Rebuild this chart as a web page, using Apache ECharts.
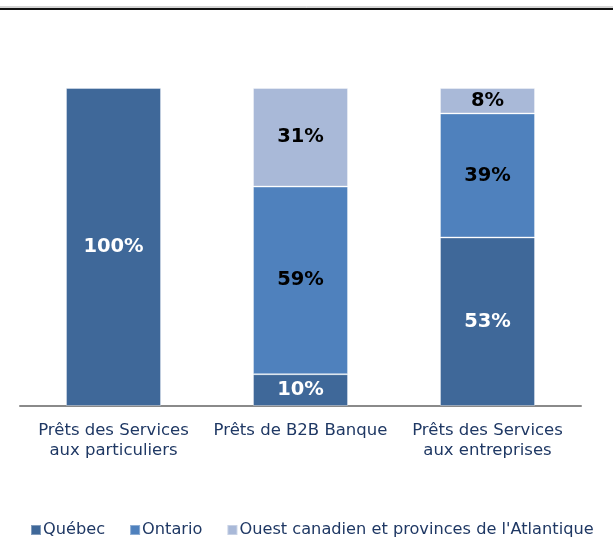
<!DOCTYPE html>
<html><head><meta charset="utf-8">
<script src="https://cdn.jsdelivr.net/npm/echarts@6/dist/echarts.min.js"></script>
<style>html,body{margin:0;padding:0;background:#fff}#c{width:613px;height:537px}</style>
</head><body><div id="c"></div>
<script>
const categories = ["Prêts des Services\naux particuliers", "Prêts de B2B Banque", "Prêts des Services\naux entreprises"];
const seriesNames = ["Québec", "Ontario", "Ouest canadien et provinces de l'Atlantique"];
const quebec = [100, 10, 53];
const ontario = [null, 59, 39];
const ouest = [null, 31, 8];
const colors = ["#3F6899", "#4F81BD", "#A9B9D8"];
const labelColors = ["#ffffff", "#000000", "#000000"];

const chart = echarts.init(document.getElementById('c'), null, {renderer: 'canvas'});
const font = "'DejaVu Sans', Verdana, sans-serif";
const values = [quebec, ontario, ouest];
chart.setOption({
  animation: false,
  textStyle: {fontFamily: font},
  grid: {left: 20, top: 88, width: 561, height: 318, containLabel: false},
  xAxis: {
    type: 'category', data: categories,
    axisLine: {lineStyle: {color: '#8a8a8a', width: 2}},
    axisTick: {show: false},
    axisLabel: {color: '#1F3864', fontSize: 16.5, fontFamily: font, margin: 15, lineHeight: 20, interval: 0}
  },
  yAxis: {type: 'value', min: 0, max: 100, show: false, splitLine: {show: false}},
  legend: {
    left: 25, top: 517, itemWidth: 10, itemHeight: 10, itemGap: 24,
    icon: 'rect',
    textStyle: {color: '#1F3864', fontSize: 16.2, fontFamily: font, padding: [0, 0, 0, -3]},
    data: seriesNames
  },
  series: seriesNames.map((n, i) => ({
    name: n, type: 'bar', stack: 'total', data: values[i],
    barWidth: 95,
    itemStyle: {color: colors[i], borderColor: 'rgba(255,255,255,0.35)', borderWidth: 1},
    label: {
      show: true, position: 'inside', color: labelColors[i], fontWeight: 'bold',
      fontSize: 19.5, fontFamily: font,
      formatter: p => (p.value ? p.value + '%' : '')
    }
  })),
  graphic: [
    {type: 'line', shape: {x1: 0, y1: 7, x2: 613, y2: 7}, style: {stroke: '#aaaaaa', lineWidth: 1}},
    {type: 'line', shape: {x1: 0, y1: 9, x2: 613, y2: 9}, style: {stroke: '#111111', lineWidth: 2}}
  ]
});
</script></body></html>
